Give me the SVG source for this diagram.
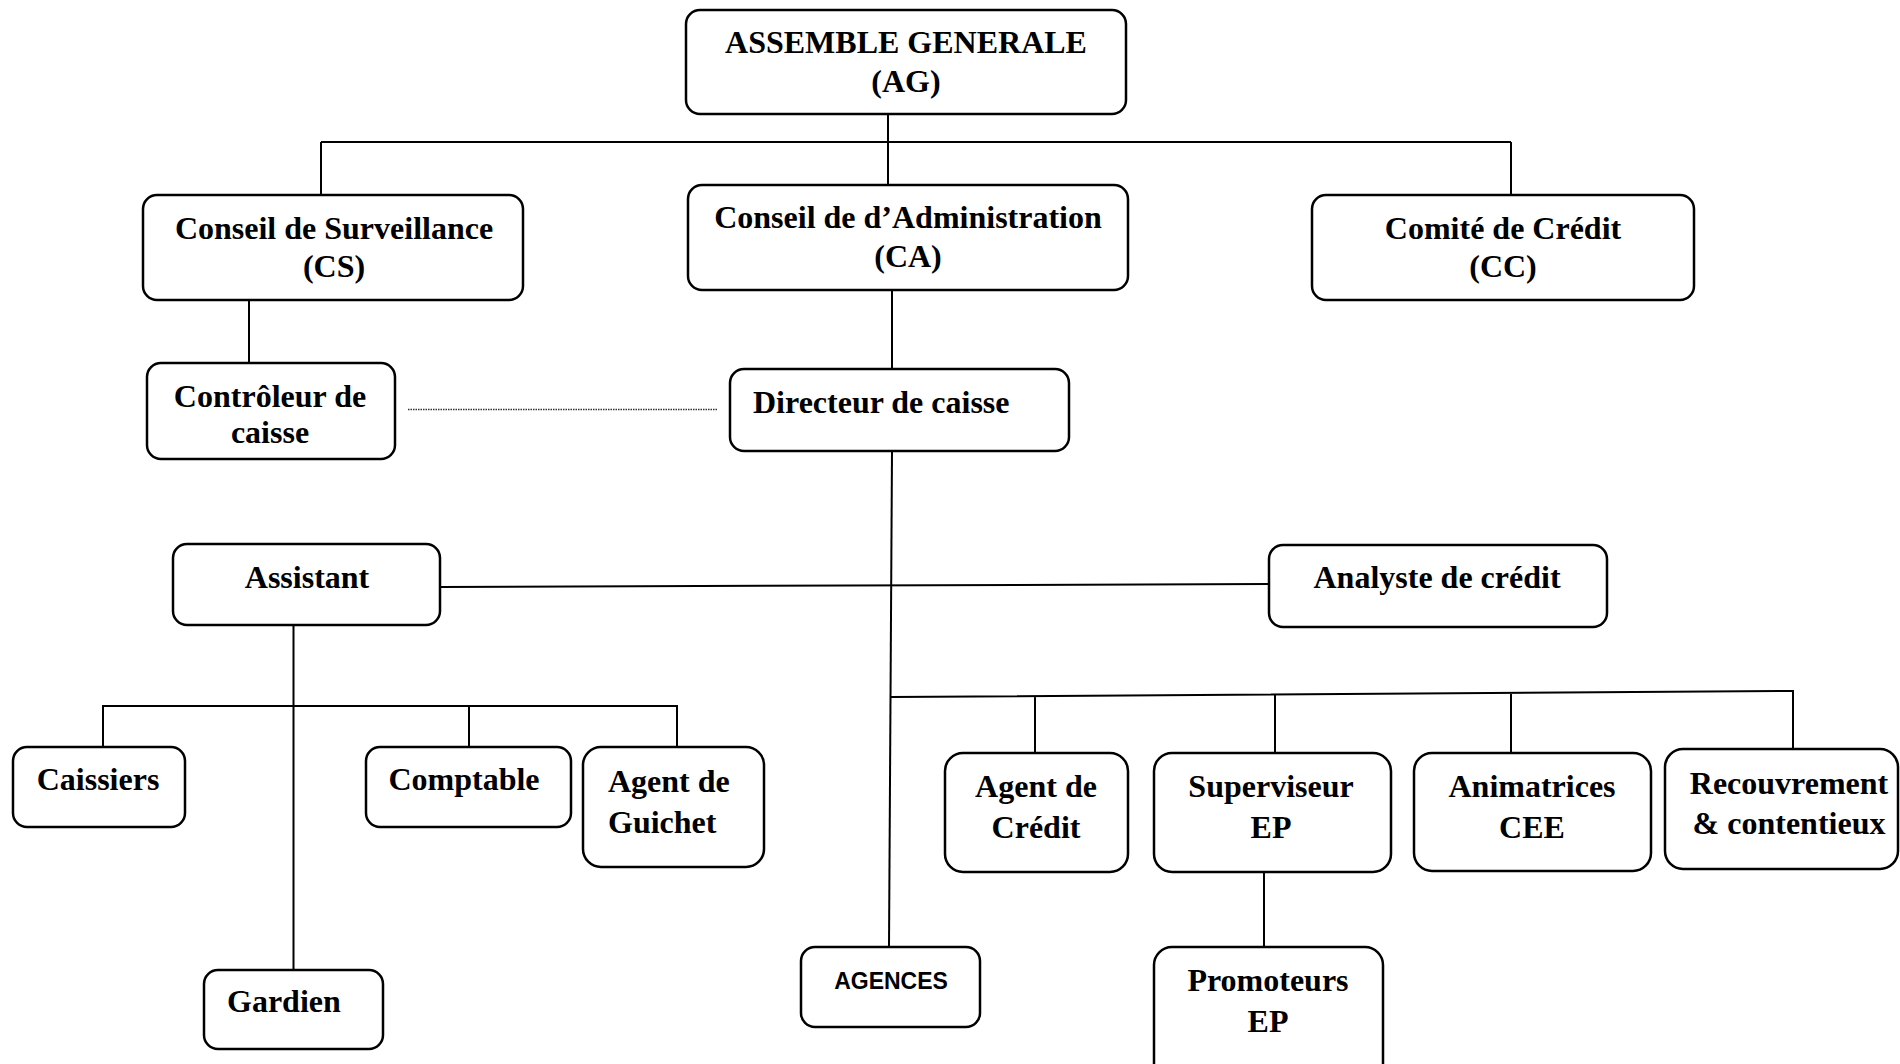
<svg xmlns="http://www.w3.org/2000/svg" width="1900" height="1064" viewBox="0 0 1900 1064">
<style>
.box{fill:#fff;stroke:#000;stroke-width:2.5}
.t{font-family:"Liberation Serif","Times New Roman",serif;font-weight:bold;font-size:32px;fill:#000}
.c{text-anchor:middle}
.s{font-family:"Liberation Sans",Arial,sans-serif;font-weight:bold;font-size:23px;fill:#000;text-anchor:middle}
.ln{stroke:#000;stroke-width:2;fill:none}
.dot{stroke:#333;stroke-width:1.5;stroke-dasharray:1.5 1;fill:none}
</style>
<rect width="1900" height="1064" fill="#fff"/>
<g id="connectors">
<path class="ln" d="M888 115 V142 M321 142 H1511 M321 142 V195 M888 142 V185 M1511 142 V195"/>
<path class="ln" d="M249 300 V363"/>
<path class="dot" d="M408 409.5 H717"/>
<path class="ln" d="M892 290 V369"/>
<path class="ln" d="M892 451 L889 947"/>
<path class="ln" d="M440 587 L1269 584"/>
<path class="ln" d="M293.5 625 V970"/>
<path class="ln" d="M103 747 V706 H677 V747 M469 706 V747"/>
<path class="ln" d="M891 697 L1793 691 V749 M1035 696 V753 M1275 695 V753 M1511 693 V753"/>
<path class="ln" d="M1264 872 V947"/>
</g>
<g id="n-ag"><rect class="box" x="686" y="10" width="440" height="104" rx="14"/>
<text class="t c" x="906" y="53">ASSEMBLE GENERALE</text><text class="t c" x="906" y="92">(AG)</text></g>
<g id="n-cs"><rect class="box" x="143" y="195" width="380" height="105" rx="14"/>
<text class="t c" x="334" y="239">Conseil de Surveillance</text><text class="t c" x="334" y="277">(CS)</text></g>
<g id="n-ca"><rect class="box" x="688" y="185" width="440" height="105" rx="14"/>
<text class="t c" x="908" y="228">Conseil de d’Administration</text><text class="t c" x="908" y="267">(CA)</text></g>
<g id="n-cc"><rect class="box" x="1312" y="195" width="382" height="105" rx="14"/>
<text class="t c" x="1503" y="239">Comité de Crédit</text><text class="t c" x="1503" y="277">(CC)</text></g>
<g id="n-controleur"><rect class="box" x="147" y="363" width="248" height="96" rx="14"/>
<text class="t c" x="270" y="407">Contrôleur de</text><text class="t c" x="270" y="443">caisse</text></g>
<g id="n-directeur"><rect class="box" x="730" y="369" width="339" height="82" rx="14"/>
<text class="t" x="753" y="413">Directeur de caisse</text></g>
<g id="n-assistant"><rect class="box" x="173" y="544" width="267" height="81" rx="14"/>
<text class="t c" x="307" y="588">Assistant</text></g>
<g id="n-analyste"><rect class="box" x="1269" y="545" width="338" height="82" rx="14"/>
<text class="t c" x="1437" y="588">Analyste de crédit</text></g>
<g id="n-caissiers"><rect class="box" x="13" y="747" width="172" height="80" rx="14"/>
<text class="t c" x="98" y="790">Caissiers</text></g>
<g id="n-comptable"><rect class="box" x="366" y="747" width="205" height="80" rx="14"/>
<text class="t c" x="464" y="790">Comptable</text></g>
<g id="n-guichet"><rect class="box" x="583" y="747" width="181" height="120" rx="18"/>
<text class="t" x="608" y="792">Agent de</text><text class="t" x="608" y="833">Guichet</text></g>
<g id="n-gardien"><rect class="box" x="204" y="970" width="179" height="79" rx="14"/>
<text class="t" x="227" y="1012">Gardien</text></g>
<g id="n-agences"><rect class="box" x="801" y="947" width="179" height="80" rx="14"/>
<text class="s" x="891" y="989">AGENCES</text></g>
<g id="n-agentcredit"><rect class="box" x="945" y="753" width="183" height="119" rx="18"/>
<text class="t c" x="1036" y="797">Agent de</text><text class="t c" x="1036" y="838">Crédit</text></g>
<g id="n-superviseur"><rect class="box" x="1154" y="753" width="237" height="119" rx="18"/>
<text class="t c" x="1271" y="797">Superviseur</text><text class="t c" x="1271" y="838">EP</text></g>
<g id="n-animatrices"><rect class="box" x="1414" y="753" width="237" height="118" rx="18"/>
<text class="t c" x="1532" y="797">Animatrices</text><text class="t c" x="1532" y="838">CEE</text></g>
<g id="n-recouvrement"><rect class="box" x="1665" y="749" width="233" height="120" rx="18"/>
<text class="t c" x="1789" y="794">Recouvrement</text><text class="t c" x="1789" y="834">&amp; contentieux</text></g>
<g id="n-promoteurs"><rect class="box" x="1154" y="947" width="229" height="140" rx="18"/>
<text class="t c" x="1268" y="991">Promoteurs</text><text class="t c" x="1268" y="1032">EP</text></g>
</svg>
